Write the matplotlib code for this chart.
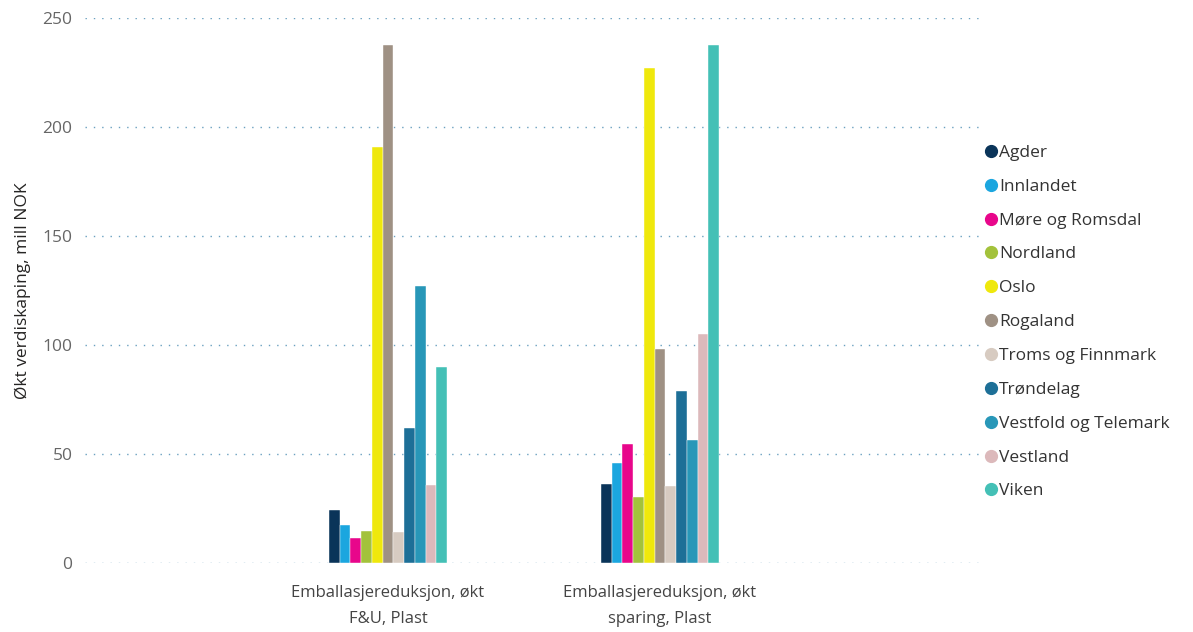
import matplotlib
matplotlib.use("Agg")
import matplotlib.pyplot as plt
from matplotlib.lines import Line2D
import numpy as np

plt.rcParams['font.family'] = ['Open Sans', 'DejaVu Sans']

categories = ["Emballasjereduksjon, økt\nF&U, Plast", "Emballasjereduksjon, økt\nsparing, Plast"]
regions = ["Agder", "Innlandet", "Møre og Romsdal", "Nordland", "Oslo", "Rogaland",
           "Troms og Finnmark", "Trøndelag", "Vestfold og Telemark", "Vestland", "Viken"]
values_fou = [24.1, 17.2, 11.5, 14.8, 190.7, 237.7, 14.4, 62.0, 126.9, 35.7, 89.7]
values_sparing = [36.4, 45.9, 54.4, 30.2, 227.0, 98.0, 35.1, 78.7, 56.4, 104.9, 237.7]
colors = ["#0a3459", "#1ba6df", "#e8068b", "#a3c23b", "#efe80c", "#9f9184",
          "#d7cbc1", "#1d6f97", "#2897b8", "#dcb9bb", "#44c0b6"]
yticks = [0, 50, 100, 150, 200, 250]

fig = plt.figure(figsize=(11.93, 6.32), dpi=100)
ax = fig.add_axes([0.0712, 0.1092, 0.7545, 0.8623])

x = np.arange(len(categories))
n = len(regions)
bw = 0.0395
for i, r in enumerate(regions):
    vals = [values_fou[i], values_sparing[i]]
    ax.bar(x + (i - (n - 1) / 2) * bw, vals, width=bw, color=colors[i],
           edgecolor='white', linewidth=0.3, zorder=3)

ax.set_ylim(0, 250)
ax.set_xlim(-1.114, 2.195)
ax.set_yticks(yticks)
ax.set_xticks(x)
ax.set_xticklabels(categories, fontsize=12, color="#444444", linespacing=1.85)
ax.tick_params(axis='both', length=0)
ax.tick_params(axis='y', labelsize=12.5, labelcolor="#666666", pad=9)
ax.tick_params(axis='x', pad=16)
ax.grid(axis='y', linestyle=(0, (1, 5)), color="#6aa0c0", linewidth=1.0, zorder=0)
for s in ax.spines.values():
    s.set_visible(False)
ax.set_ylabel("Økt verdiskaping, mill NOK", fontsize=12.5, color="#252423", labelpad=8)

handles = [Line2D([0], [0], marker='o', linestyle='', markersize=8.5,
                  markerfacecolor=c, markeredgecolor=c) for c in colors]
fig.legend(handles, regions, loc='upper left', bbox_to_anchor=(0.818, 0.782),
           frameon=False, fontsize=12.5, handletextpad=-0.05, labelspacing=1.02,
           handlelength=1.0, labelcolor="#333333", borderaxespad=0)

fig.savefig("out.png", dpi=100)
